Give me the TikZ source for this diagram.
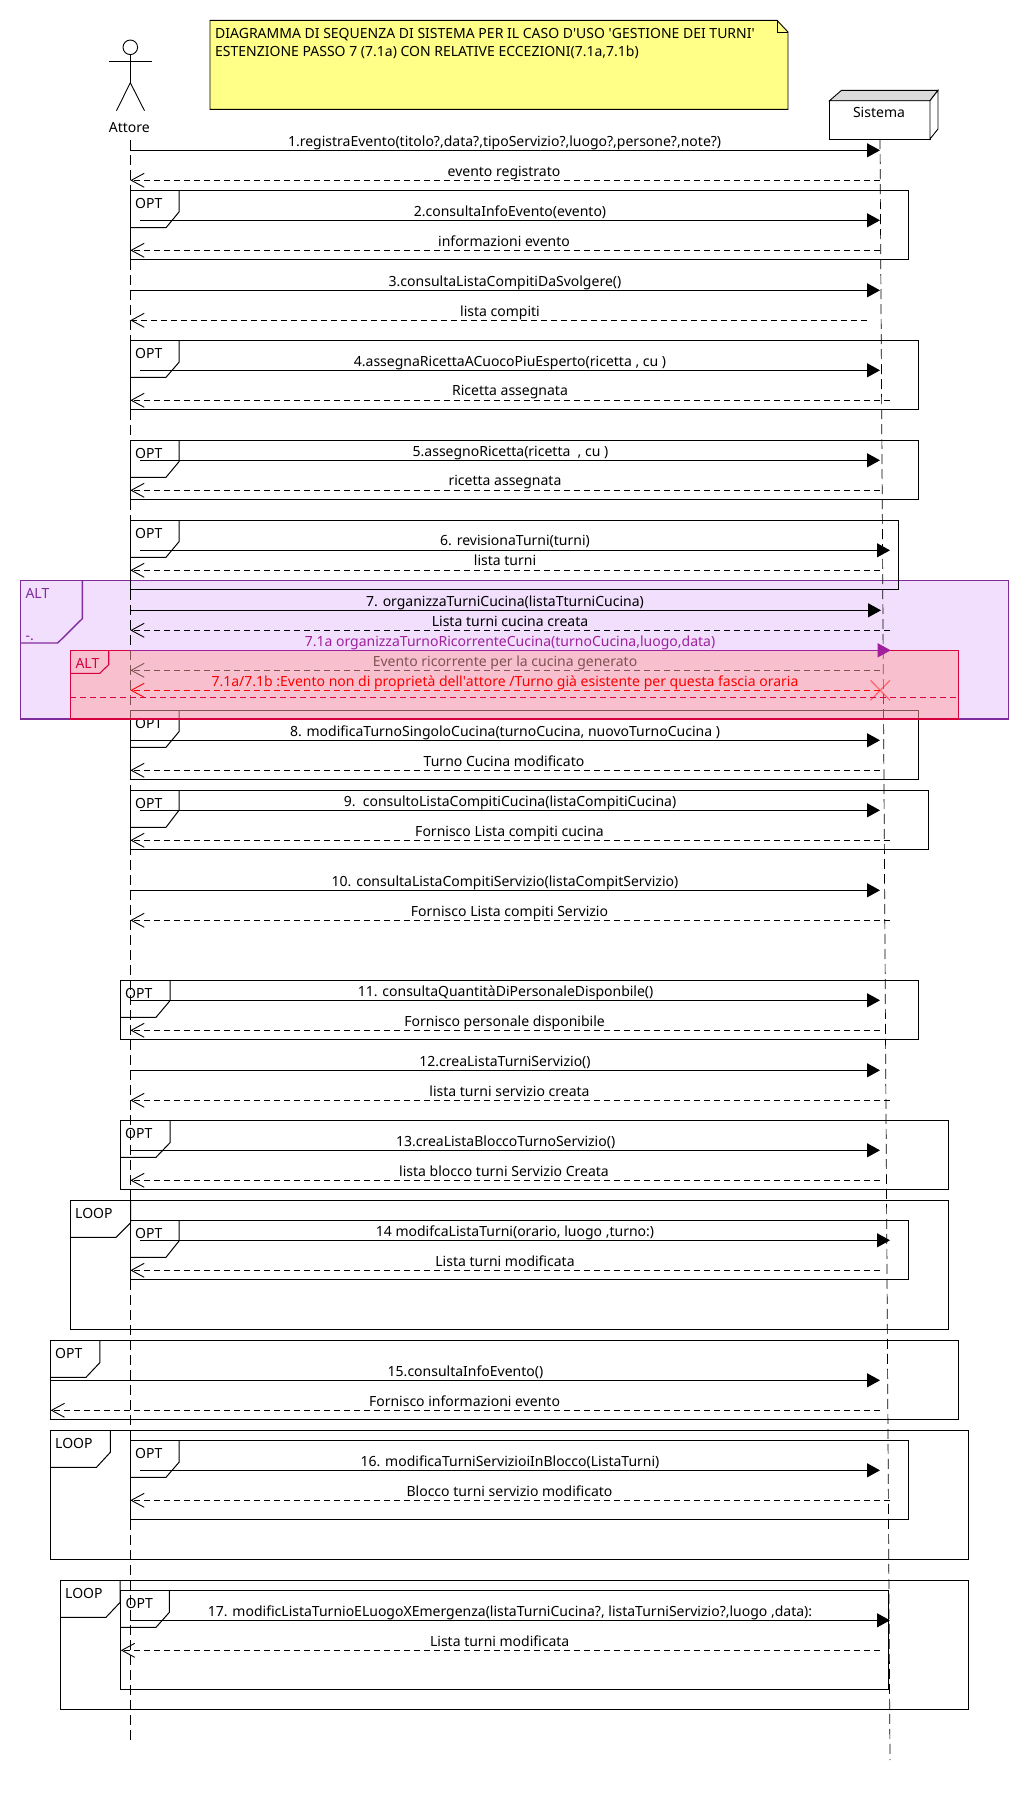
\documentclass[tikz,border=0pt]{standalone}
\usepackage{fontspec}
\setmainfont{Noto Sans}
\usetikzlibrary{arrows.meta}
\definecolor{lilac}{HTML}{F2DEFD}
\definecolor{altpurple}{HTML}{7F2C9C}
\definecolor{txtpurple}{HTML}{A0209C}
\definecolor{altred}{HTML}{D6003C}
\definecolor{pinkveil}{HTML}{FFA4A3}
\definecolor{notefill}{HTML}{FFFF88}
\tikzset{
  every node/.style={inner sep=0pt,font=\fontsize{14}{16}\selectfont},
  msg/.style={text height=12.2pt,text depth=3pt,anchor=center},
  tag/.style={text height=14pt,text depth=3pt,anchor=west},
  syncmsg/.style={line width=1.1pt,-{Stealth[inset=0pt,length=13pt,width=14pt]}},
  retmsg/.style={line width=1pt,dash pattern=on 6pt off 4pt,-{Straight Barb[length=13pt,width=14pt,line width=0.9pt]}},
  frame/.style={line width=1pt},
  lifeline/.style={line width=0.7pt,dash pattern=on 10pt off 5pt}
}
\begin{document}
\begin{tikzpicture}[x=1pt,y=-1pt]
        \useasboundingbox (0,0) rectangle (1030,1800);
        \fill [white] (0,0) rectangle (1030,1800);
        \draw [altpurple,fill=lilac,line width=1.4pt] (20.7,580.7) rectangle (1008.5,719);
        \draw [altpurple,line width=1.4pt] (20.7,643) -- (57.7,643) -- (82.3,618.7) -- (82.3,580.7);
        \coordinate (top1) at (130.3,140);
        \coordinate (bot1) at (130.3,1740);
        \coordinate (top2) at (880,139);
        \coordinate (bot2) at (890,1760);
        \draw [lifeline] (top1) -- (bot1);
        \draw [lifeline] (top2) -- (bot2);
        \draw [black,fill=notefill,line width=0.9pt] (210,20.3) -- (777,20.3) -- (788,32) -- (788,109.3) -- (210,109.3) -- cycle;
        \draw [black,line width=0.9pt] (777,20.3) -- (777,32) -- (788,32);
        \node [tag] (note1) at (215,33) {DIAGRAMMA DI SEQUENZA DI SISTEMA PER IL CASO D\textquotesingle USO \textquotesingle GESTIONE DEI TURNI\textquotesingle};
        \node [tag] (note2) at (215,50.7) {ESTENZIONE PASSO 7 (7.1a) CON RELATIVE ECCEZIONI(7.1a,7.1b)};
        \draw [black,line width=0.9pt] (130.3,47.3) circle (7.3);
        \draw [black,line width=0.9pt] (130.3,54.6) -- (130.3,82.7);
        \draw [black,line width=0.9pt] (109,61.3) -- (151.7,61.3);
        \draw [black,line width=0.9pt] (116.5,110.7) -- (130.3,82.7) -- (144.5,110.7);
        \node [msg] (attore) at (129.3,128) {Attore};
        \draw [black,fill=white,line width=0.9pt] (829.5,100.7) rectangle (930,139);
        \draw [black,fill=black!14,line width=0.9pt] (829.5,100.7) -- (841.5,90.3) -- (938,90.3) -- (930,100.7) -- cycle;
        \draw [black,fill=white,line width=0.9pt] (930,100.7) -- (938,90.3) -- (938,129) -- (930,139) -- cycle;
        \node [msg] (sistema) at (879,113) {Sistema};
        \draw [frame] (130.3,190.5) rectangle (908,259.3);
        \draw [frame] (130.3,227.7) -- (166,227.7) -- (179,212) -- (179,190.5);
        \node [tag] (opt2) at (135,203) {OPT};
        \draw [frame] (130.3,340.3) rectangle (918,409.3);
        \draw [frame] (130.3,377.3) -- (166,377.3) -- (179,362.3) -- (179,340.3);
        \node [tag] (opt4) at (135,353) {OPT};
        \draw [frame] (130.3,440.3) rectangle (918,499.3);
        \draw [frame] (130.3,477.3) -- (166,477.3) -- (179,461.7) -- (179,440.3);
        \node [tag] (opt5) at (135,453) {OPT};
        \draw [frame] (130.3,520.3) rectangle (898,589.3);
        \draw [frame] (130.3,557.3) -- (166,557.3) -- (179,541.7) -- (179,520.3);
        \node [tag] (opt6) at (135,533) {OPT};
        \draw [frame] (130.3,710.3) rectangle (918,779.3);
        \draw [frame] (130.3,747.3) -- (166,747.3) -- (179,731.7) -- (179,710.3);
        \node [tag] (opt8) at (135,723.3) {OPT};
        \draw [frame] (130.3,790.3) rectangle (928,849.3);
        \draw [frame] (130.3,827.3) -- (166,827.3) -- (179,810.3) -- (179,790.3);
        \node [tag] (opt9) at (135,803) {OPT};
        \draw [frame] (120.8,980.3) rectangle (918,1039.3);
        \draw [frame] (120.8,1017.3) -- (156,1017.3) -- (170,1000.7) -- (170,980.3);
        \node [tag] (opt11) at (125,993.3) {OPT};
        \draw [frame] (120.8,1120.3) rectangle (948.3,1189.3);
        \draw [frame] (120.8,1157.3) -- (156,1157.3) -- (170,1142.7) -- (170,1120.3);
        \node [tag] (opt13) at (125,1133.3) {OPT};
        \draw [frame] (70.3,1200.3) rectangle (948.3,1329.3);
        \draw [frame] (70.3,1237.3) -- (116,1237.3) -- (130.7,1222.7) -- (130.7,1200.3);
        \node [tag] (loop14) at (75,1213.3) {LOOP};
        \draw [frame] (130.3,1220.3) rectangle (908,1279.3);
        \draw [frame] (130.3,1257.3) -- (166,1257.3) -- (179,1241) -- (179,1220.3);
        \node [tag] (opt14) at (135,1233) {OPT};
        \draw [frame] (50.6,1340.3) rectangle (958,1419.3);
        \draw [frame] (50.6,1377.3) -- (86,1377.3) -- (99.8,1362.7) -- (99.8,1340.3);
        \node [tag] (opt15) at (55,1353.3) {OPT};
        \draw [frame] (50.6,1430.3) rectangle (968,1559.3);
        \draw [frame] (50.6,1467.3) -- (96.5,1467.3) -- (110.3,1452.3) -- (110.3,1430.3);
        \node [tag] (loop16) at (55,1443.3) {LOOP};
        \draw [frame] (130.3,1440.3) rectangle (908,1519.3);
        \draw [frame] (130.3,1477.3) -- (166,1477.3) -- (179,1462.3) -- (179,1440.3);
        \node [tag] (opt16) at (135,1453.3) {OPT};
        \draw [frame] (60.4,1580.3) rectangle (968,1709.3);
        \draw [frame] (60.4,1617.3) -- (106,1617.3) -- (120.2,1602.3) -- (120.2,1580.3);
        \node [tag] (loop17) at (65,1593.3) {LOOP};
        \draw [frame] (120.8,1590.3) rectangle (888.5,1689.3);
        \draw [frame] (120.8,1627.3) -- (156,1627.3) -- (169.4,1612.3) -- (169.4,1590.3);
        \node [tag] (opt17) at (125.4,1603.3) {OPT};
        \coordinate (a1) at (130.3,150.3); \coordinate (s1) at (880,150.3);
        \draw [syncmsg] (a1) -- (s1);
        \node [msg] (l1) at (504.6,142) {1.registraEvento(titolo?,data?,tipoServizio?,luogo?,persone?,note?)};
        \coordinate (ra1) at (130.3,180.3); \coordinate (rs1) at (880,180.3);
        \draw [retmsg] (rs1) -- (ra1);
        \node [msg] (lr1) at (504,171.5) {evento registrato};
        \coordinate (a2) at (140,220.3); \coordinate (s2) at (880,220.3);
        \draw [syncmsg] (a2) -- (s2);
        \node [msg] (l2) at (510,211.5) {2.consultaInfoEvento(evento)};
        \coordinate (ra2) at (130.3,250.3); \coordinate (rs2) at (880,250.3);
        \draw [retmsg] (rs2) -- (ra2);
        \node [msg] (lr2) at (504,241.5) {informazioni evento};
        \coordinate (a3) at (130.3,290.3); \coordinate (s3) at (880,290.3);
        \draw [syncmsg] (a3) -- (s3);
        \node [msg] (l3) at (505,281.7) {3.consultaListaCompitiDaSvolgere()};
        \coordinate (ra3) at (130.3,320.3); \coordinate (rs3) at (867,320.3);
        \draw [retmsg] (rs3) -- (ra3);
        \node [msg] (lr3) at (500,311.5) {lista compiti};
        \coordinate (a4) at (140,370.3); \coordinate (s4) at (880,370.3);
        \draw [syncmsg] (a4) -- (s4);
        \node [msg] (l4) at (510,361.7) {4.assegnaRicettaACuocoPiuEsperto(ricetta , cu )};
        \coordinate (ra4) at (130.3,400.3); \coordinate (rs4) at (890,400.3);
        \draw [retmsg] (rs4) -- (ra4);
        \node [msg] (lr4) at (510,391.3) {Ricetta assegnata};
        \coordinate (a5) at (140,460.3); \coordinate (s5) at (880,460.3);
        \draw [syncmsg] (a5) -- (s5);
        \node [msg] (l5) at (510.5,451.7) {5.assegnoRicetta(ricetta\ \ , cu )};
        \coordinate (ra5) at (130.3,490.3); \coordinate (rs5) at (880,490.3);
        \draw [retmsg] (rs5) -- (ra5);
        \node [msg] (lr5) at (505,481.3) {ricetta assegnata};
        \coordinate (a6) at (140,550.3); \coordinate (s6) at (890,550.3);
        \draw [syncmsg] (a6) -- (s6);
        \node [msg] (l6) at (515,541.3) {6. revisionaTurni(turni)};
        \coordinate (ra6) at (130.3,570.3); \coordinate (rs6) at (880,570.3);
        \draw [retmsg] (rs6) -- (ra6);
        \node [msg] (lr6) at (505,560.7) {lista turni};
        \coordinate (a7) at (130.3,610.3); \coordinate (s7) at (881,610.3);
        \draw [syncmsg] (a7) -- (s7);
        \node [msg] (l7) at (505,601.7) {7. organizzaTurniCucina(listaTturniCucina)};
        \coordinate (ra7) at (130.3,630.3); \coordinate (rs7) at (890,630.3);
        \draw [retmsg] (rs7) -- (ra7);
        \node [msg] (lr7) at (510,621.7) {Lista turni cucina creata};
        \coordinate (ra71) at (130.3,670.3); \coordinate (rs71) at (880,670.3);
        \draw [retmsg] (rs71) -- (ra71);
        \node [msg] (lr71) at (505,661.7) {Evento ricorrente per la cucina generato};
        \coordinate (a8) at (130.3,740.3); \coordinate (s8) at (880,740.3);
        \draw [syncmsg] (a8) -- (s8);
        \node [msg] (l8) at (505,731.7) {8. modificaTurnoSingoloCucina(turnoCucina, nuovoTurnoCucina )};
        \coordinate (ra8) at (130.3,770.3); \coordinate (rs8) at (880,770.3);
        \draw [retmsg] (rs8) -- (ra8);
        \node [msg] (lr8) at (504,761.7) {Turno Cucina modificato};
        \fill [pinkveil,opacity=0.5] (70.3,650.3) rectangle (958.5,719);
        \draw [altred,line width=1.1pt] (70.3,650.3) rectangle (958.5,719);
        \draw [altred,line width=1.1pt] (70.3,673.3) -- (99.7,673.3) -- (108.7,664.7) -- (108.7,650.3);
        \node [tag,text=altred] (alt2) at (75.3,663) {ALT};
        \node [tag,text=altpurple] (alt1) at (25.3,593) {ALT};
        \node [tag,text=altpurple] (alt1b) at (25.3,635) {-.};
        \coordinate (a71) at (130.3,650.3); \coordinate (s71) at (890.7,650.3);
        \draw [syncmsg,txtpurple] (a71) -- (s71);
        \node [msg,text=txtpurple] (l71) at (510,641.7) {7.1a organizzaTurnoRicorrenteCucina(turnoCucina,luogo,data)};
        \coordinate (ra72) at (130.3,690.3); \coordinate (rs72) at (880,690.3);
        \draw [retmsg,red] (rs72) -- (ra72);
        \node [msg,text=red] (lr72) at (505,681.7) {7.1a/7.1b :Evento non di proprietà dell\textquotesingle attore /Turno già esistente per questa fascia oraria};
        \draw [red,opacity=0.45,line width=1.3pt] (870.5,680.3) -- (890,700.3) (890,680.3) -- (870.5,700.3);
        \draw [altred,line width=1pt,dash pattern=on 6pt off 4pt] (70.3,697.3) -- (958.5,697.3);
        \coordinate (a9) at (140,810.3); \coordinate (s9) at (880,810.3);
        \draw [syncmsg] (a9) -- (s9);
        \node [msg] (l9) at (510,801.7) {9.\ \ consultoListaCompitiCucina(listaCompitiCucina)};
        \coordinate (ra9) at (130.3,840.3); \coordinate (rs9) at (890,840.3);
        \draw [retmsg] (rs9) -- (ra9);
        \node [msg] (lr9) at (509.5,831.7) {Fornisco Lista compiti cucina};
        \coordinate (a10) at (130.3,890.3); \coordinate (s10) at (880,890.3);
        \draw [syncmsg] (a10) -- (s10);
        \node [msg] (l10) at (505,881.7) {10. consultaListaCompitiServizio(listaCompitServizio)};
        \coordinate (ra10) at (130.3,920.3); \coordinate (rs10) at (890,920.3);
        \draw [retmsg] (rs10) -- (ra10);
        \node [msg] (lr10) at (509.5,911.7) {Fornisco Lista compiti Servizio};
        \coordinate (a11) at (130.3,1000.3); \coordinate (s11) at (880,1000.3);
        \draw [syncmsg] (a11) -- (s11);
        \node [msg] (l11) at (505.6,991.7) {11. consultaQuantitàDiPersonaleDisponbile()};
        \coordinate (ra11) at (130.3,1030.3); \coordinate (rs11) at (880,1030.3);
        \draw [retmsg] (rs11) -- (ra11);
        \node [msg] (lr11) at (504.6,1021.7) {Fornisco personale disponibile};
        \coordinate (a12) at (130.3,1070.3); \coordinate (s12) at (880,1070.3);
        \draw [syncmsg] (a12) -- (s12);
        \node [msg] (l12) at (505,1061.7) {12.creaListaTurniServizio()};
        \coordinate (ra12) at (130.3,1100.3); \coordinate (rs12) at (890,1100.3);
        \draw [retmsg] (rs12) -- (ra12);
        \node [msg] (lr12) at (509.5,1091.7) {lista turni servizio creata};
        \coordinate (a13) at (130.3,1150.3); \coordinate (s13) at (880,1150.3);
        \draw [syncmsg] (a13) -- (s13);
        \node [msg] (l13) at (505.6,1141.7) {13.creaListaBloccoTurnoServizio()};
        \coordinate (ra13) at (130.3,1180.3); \coordinate (rs13) at (880,1180.3);
        \draw [retmsg] (rs13) -- (ra13);
        \node [msg] (lr13) at (504,1171.7) {lista blocco turni Servizio Creata};
        \coordinate (a14) at (140,1240.3); \coordinate (s14) at (890,1240.3);
        \draw [syncmsg] (a14) -- (s14);
        \node [msg] (l14) at (515,1231.7) {14 modifcaListaTurni(orario, luogo ,turno:)};
        \coordinate (ra14) at (130.3,1270.3); \coordinate (rs14) at (880,1270.3);
        \draw [retmsg] (rs14) -- (ra14);
        \node [msg] (lr14) at (505,1261.7) {Lista turni modificata};
        \coordinate (a15) at (50.6,1380.3); \coordinate (s15) at (880,1380.3);
        \draw [syncmsg] (a15) -- (s15);
        \node [msg] (l15) at (465.5,1371.7) {15.consultaInfoEvento()};
        \coordinate (ra15) at (50.6,1410.3); \coordinate (rs15) at (880,1410.3);
        \draw [retmsg] (rs15) -- (ra15);
        \node [msg] (lr15) at (464.5,1401.7) {Fornisco informazioni evento};
        \coordinate (a16) at (140,1470.3); \coordinate (s16) at (880,1470.3);
        \draw [syncmsg] (a16) -- (s16);
        \node [msg] (l16) at (510,1461.7) {16. modificaTurniServizioiInBlocco(ListaTurni)};
        \coordinate (ra16) at (130.3,1500.3); \coordinate (rs16) at (890,1500.3);
        \draw [retmsg] (rs16) -- (ra16);
        \node [msg] (lr16) at (509.5,1491.7) {Blocco turni servizio modificato};
        \coordinate (a17) at (130.3,1620.3); \coordinate (s17) at (890,1620.3);
        \draw [syncmsg] (a17) -- (s17);
        \node [msg] (l17) at (510,1611.7) {17. modificListaTurnioELuogoXEmergenza(listaTurniCucina?, listaTurniServizio?,luogo ,data):};
        \coordinate (ra17) at (120.8,1650.3); \coordinate (rs17) at (880,1650.3);
        \draw [retmsg] (rs17) -- (ra17);
        \node [msg] (lr17) at (499.7,1641.7) {Lista turni modificata};
\end{tikzpicture}
\end{document}
